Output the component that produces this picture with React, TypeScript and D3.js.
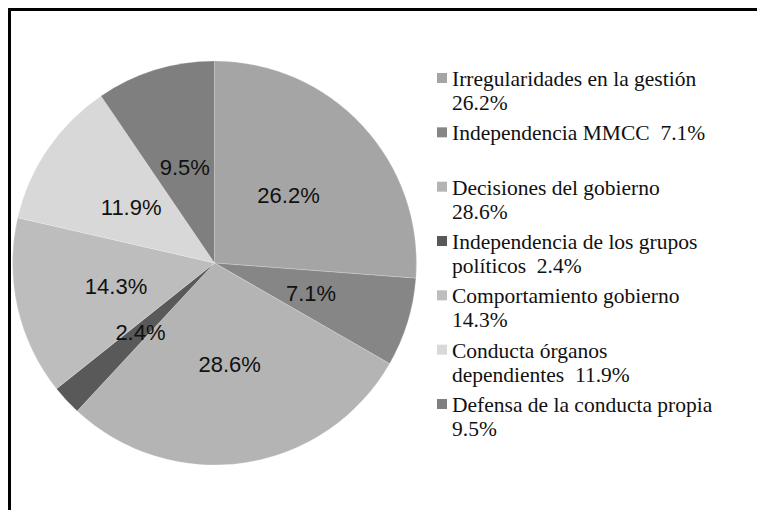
import React from "react";
import * as d3 from "d3";

const categories = [
  "Irregularidades en la gestión",
  "Independencia MMCC",
  "Decisiones del gobierno",
  "Independencia de los grupos políticos",
  "Comportamiento gobierno",
  "Conducta órganos dependientes",
  "Defensa de la conducta propia",
];
const values = [26.2, 7.1, 28.6, 2.4, 14.3, 11.9, 9.5];
const colors = ["#a5a5a5", "#868686", "#b4b4b4", "#595959", "#bdbdbd", "#d8d8d8", "#7f7f7f"];
const legendLines = [
  ["Irregularidades en la gestión", "26.2%"],
  ["Independencia MMCC  7.1%"],
  ["Decisiones del gobierno", "28.6%"],
  ["Independencia de los grupos", "políticos  2.4%"],
  ["Comportamiento gobierno", "14.3%"],
  ["Conducta órganos", "dependientes  11.9%"],
  ["Defensa de la conducta propia", "9.5%"],
];

const W = 757;
const H = 510;

export default function App() {
  const cx = 214.5;
  const cy = 263;
  const R = 202;
  const pie = d3.pie<number>().sort(null).value((d) => d);
  const arcs = pie(values);
  const arc = d3.arc<d3.PieArcDatum<number>>().innerRadius(0).outerRadius(R);
  const color = d3.scaleOrdinal<string, string>().domain(categories).range(colors);
  const legendY = d3.scaleLinear().domain([0, categories.length - 1]).range([86, 412]);

  return (
    <svg
      width={W}
      height={H}
      style={{ position: "absolute", left: 0, top: 0, background: "#fff", overflow: "hidden" }}
    >
      <rect x={0} y={0} width={W} height={H} fill="#fff" />
      <path d={`M9.5,${H}V9.5H${W}`} fill="none" stroke="#000" strokeWidth={3} />
      <g transform={`translate(${cx},${cy})`}>
        {arcs.map((a, i) => (
          <path key={i} d={arc(a) || ""} fill={color(categories[i])} stroke="#fff" strokeOpacity={0.35} strokeWidth={0.6} />
        ))}
        {arcs.map((a, i) => {
          const [x, y] = arc.centroid(a);
          return (
            <text
              key={"l" + i}
              x={x}
              y={y}
              dy="0.4em"
              textAnchor="middle"
              fontFamily="'Liberation Sans', Arial, sans-serif"
              fontSize={22}
              fill="#111"
            >
              {`${values[i].toFixed(1)}%`}
            </text>
          );
        })}
      </g>
      <g>
        {categories.map((c, i) => {
          const y0 = legendY(i);
          return (
            <g key={c}>
              <rect x={437} y={y0 - 13} width={10} height={10} fill={color(c)} />
              {legendLines[i].map((line, j) => (
                <text
                  key={j}
                  x={452}
                  y={y0 + j * 24}
                  fontFamily="'Liberation Serif', 'Times New Roman', serif"
                  fontSize={21.5}
                  fill="#111"
                  style={{ whiteSpace: "pre" }}
                >
                  {line}
                </text>
              ))}
            </g>
          );
        })}
      </g>
    </svg>
  );
}
